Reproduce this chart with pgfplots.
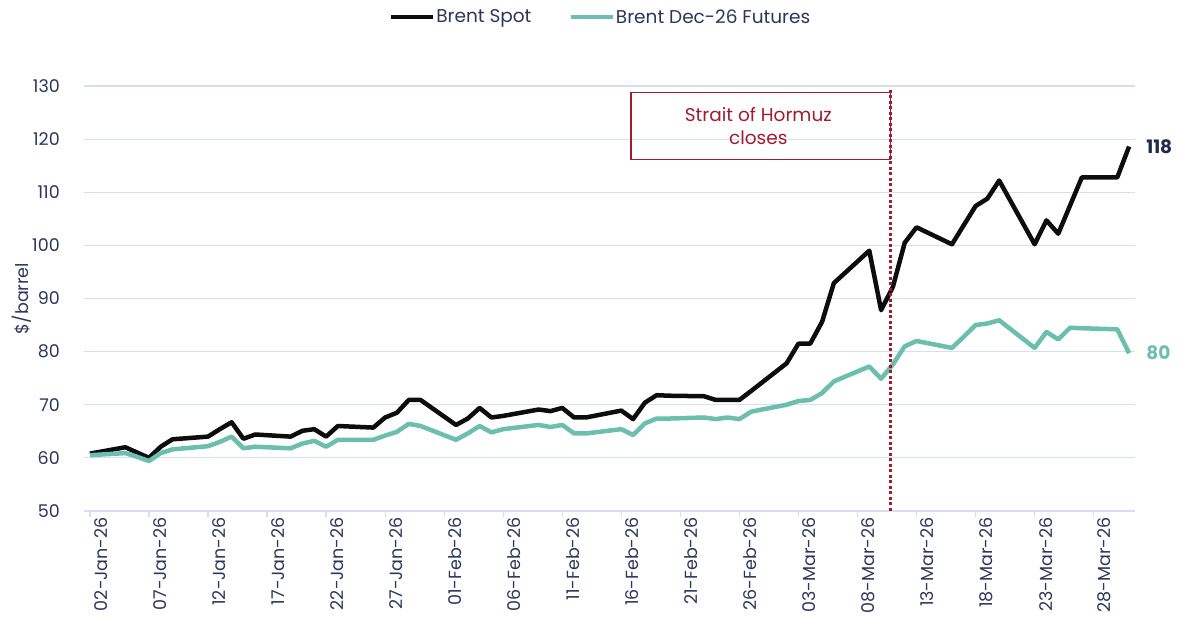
\documentclass[border=0pt]{standalone}
\usepackage{fontspec}
\setmainfont{Poppins}
\usepackage{pgfplots}
\pgfplotsset{compat=1.18}
\definecolor{navy}{HTML}{2C365A}
\definecolor{navyb}{HTML}{1F2A4D}
\definecolor{tealc}{HTML}{6CBFAE}
\definecolor{gridc}{HTML}{D8DDF2}
\definecolor{hred}{HTML}{9E1B32}
\newcommand\fs{\fontsize{17.5bp}{20bp}\selectfont}
\newcommand\fl{\fontsize{18.5bp}{22bp}\selectfont}
\begin{document}
\begin{tikzpicture}[x=1bp,y=1bp]
\begin{axis}[
  at={(84bp,106bp)}, anchor=south west,
  scale only axis, width=1051bp, height=425bp,
  xmin=-0.5, xmax=88.5, ymin=50, ymax=130,
  clip=false,
  axis line style={draw=none},
  ymajorgrids, grid style={draw=gridc, line width=1.2bp},
  ytick={50,60,...,130},
  ytick style={draw=none},
  xtick={0,5,...,85},
  xticklabels={02-Jan-26,07-Jan-26,12-Jan-26,17-Jan-26,22-Jan-26,27-Jan-26,01-Feb-26,06-Feb-26,11-Feb-26,16-Feb-26,21-Feb-26,26-Feb-26,03-Mar-26,08-Mar-26,13-Mar-26,18-Mar-26,23-Mar-26,28-Mar-26},
  xtick pos=bottom, tick align=outside, major tick length=6bp,
  xtick style={draw=gridc, line width=1.2bp},
  x tick label style={rotate=90, anchor=east, inner sep=0pt, yshift=-11bp, font=\fs, text=navy},
  y tick label style={anchor=east, inner sep=0pt, xshift=-18bp, font=\fs, text=navy},
  /pgf/number format/assume math mode=true,
  ylabel={\$/barrel},
  ylabel style={at={(axis description cs:-0.059,0.5)}, anchor=center, font=\fs, text=navy},
  legend style={at={(0.491,1.162)}, anchor=center, draw=none, fill=none,
    legend columns=2, font=\fl, text=navy, inner sep=0pt,
    nodes={inner sep=1bp},
    /tikz/every even column/.append style={column sep=36bp}},
  legend cell align=left,
  legend image code/.code={\draw[#1, line width=4.5bp] (0bp,0bp) -- (42bp,0bp);},
]
\addplot[color=black!95, line width=4.5bp, line join=round] coordinates {
(0,60.8) (3,62.0) (4,61.0) (5,60.0) (6,62.1) (7,63.5)
(10,64.0) (11,65.4) (12,66.7) (13,63.6) (14,64.4)
(17,64.0) (18,65.1) (19,65.4) (20,64.0) (21,66.0)
(24,65.7) (25,67.6) (26,68.5) (27,70.9) (28,70.9)
(31,66.2) (32,67.4) (33,69.4) (34,67.6) (35,67.9)
(38,69.1) (39,68.8) (40,69.4) (41,67.6) (42,67.6)
(45,68.9) (46,67.3) (47,70.4) (48,71.8) (49,71.7)
(52,71.6) (53,70.9) (54,70.9) (55,70.9) (56,72.6)
(59,77.8) (60,81.5) (61,81.5) (62,85.6) (63,92.9)
(66,99.0) (67,87.8) (68,92.2) (69,100.5) (70,103.4)
(73,100.2) (74,103.8) (75,107.4) (76,108.8) (77,112.2)
(80,100.2) (81,104.7) (82,102.2) (83,107.5) (84,112.8)
(87,112.8) (88,118.6)
};
\addlegendentry{Brent Spot}
\addplot[color=tealc, line width=4.5bp, line join=round] coordinates {
(0,60.5) (3,60.9) (4,60.2) (5,59.4) (6,60.9) (7,61.6)
(10,62.2) (11,63.0) (12,64.0) (13,61.8) (14,62.1)
(17,61.8) (18,62.7) (19,63.2) (20,62.1) (21,63.4)
(24,63.4) (25,64.2) (26,64.9) (27,66.4) (28,66.0)
(31,63.4) (32,64.6) (33,66.0) (34,64.8) (35,65.4)
(38,66.2) (39,65.8) (40,66.2) (41,64.6) (42,64.6)
(45,65.4) (46,64.3) (47,66.5) (48,67.4) (49,67.4)
(52,67.6) (53,67.3) (54,67.6) (55,67.3) (56,68.7)
(59,70.0) (60,70.7) (61,70.9) (62,72.2) (63,74.4)
(66,77.2) (67,74.9) (68,77.6) (69,81.0) (70,82.0)
(73,80.7) (74,82.8) (75,85.0) (76,85.3) (77,85.9)
(80,80.7) (81,83.7) (82,82.3) (83,84.5) (84,84.4)
(87,84.2) (88,79.7)
};
\addlegendentry{Brent Dec-26 Futures}
\draw[hred, line width=3bp, dash pattern=on 3bp off 2.5bp] (axis cs:67.77,50) -- (axis cs:67.77,129.6);
\draw[hred, line width=1.3bp] (axis cs:45.83,116.2) rectangle (axis cs:67.77,128.8);
\node[align=center, text=hred, font=\fl, inner sep=0pt] at (axis cs:56.6,122.5) {Strait of Hormuz\\[1bp]closes};
\node[anchor=west, inner sep=0pt, text=navyb, font=\fl\bfseries, xshift=17bp] at (axis cs:88,118.6) {118};
\node[anchor=west, inner sep=0pt, text=tealc, font=\fl\bfseries, xshift=17bp] at (axis cs:88,79.7) {80};
\end{axis}
\pgfresetboundingbox
\path (0,0) rectangle (1179,617);
\end{tikzpicture}
\end{document}
